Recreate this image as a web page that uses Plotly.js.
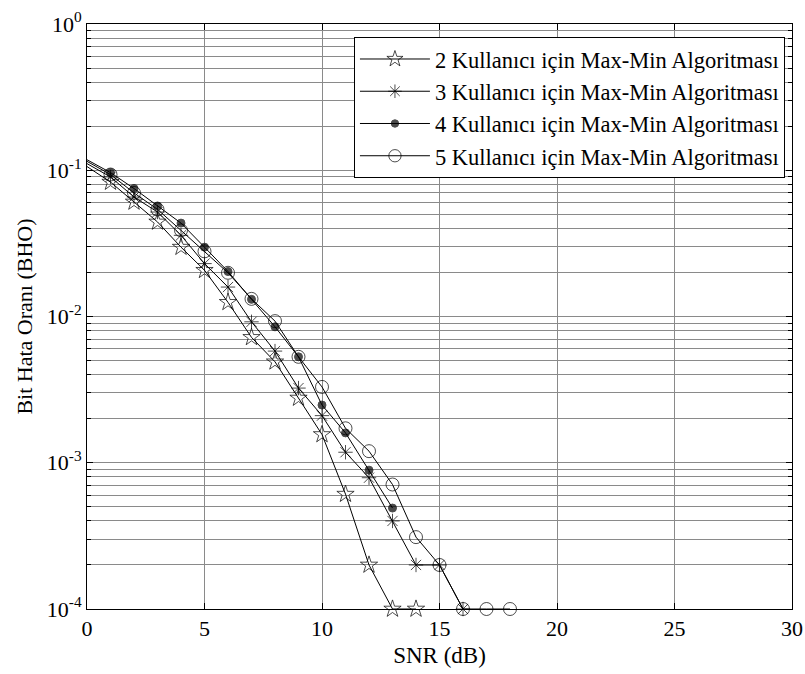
<!DOCTYPE html>
<html>
<head>
<meta charset="utf-8">
<script src="https://cdn.plot.ly/plotly-3.0.1.min.js"></script>
<style>html,body{margin:0;padding:0;background:#fff;}</style>
</head>
<body>
<div id="chart" style="width:805px;height:674px;"></div>
<script>
// SNR (dB) values for each series
const snr2 = [0,1,2,3,4,5,6,7,8,9,10,11,12,13,14];
const ber2 = [0.106,0.083,0.0607,0.0443,0.0298,0.0207,0.0125,0.0072,0.0049,0.00277,0.00156,0.00061,0.0002,0.0001,0.0001];

const snr3 = [0,1,2,3,4,5,6,7,8,9,10,11,12,13,14,15,16];
const ber3 = [0.111,0.090,0.0656,0.0518,0.0359,0.023,0.0159,0.0092,0.0058,0.00324,0.0021,0.00118,0.00079,0.0004,0.0002,0.0002,0.0001];

const snr4 = [0,1,2,3,4,5,6,7,8,9,10,11,12,13];
const ber4 = [0.118,0.0964,0.075,0.057,0.0435,0.0298,0.0203,0.0131,0.0085,0.0053,0.00248,0.0016,0.00089,0.00049];

const snr5 = [0,1,2,3,4,5,6,7,8,9,10,11,12,13,14,15,16,17,18];
const ber5 = [0.115,0.0935,0.070,0.054,0.0388,0.0279,0.0199,0.0132,0.0093,0.0053,0.0033,0.00172,0.0012,0.00071,0.00031,0.0002,0.0001,0.0001,0.0001];

const seriesNames = [
  "2 Kullanıcı için Max-Min Algoritması",
  "3 Kullanıcı için Max-Min Algoritması",
  "4 Kullanıcı için Max-Min Algoritması",
  "5 Kullanıcı için Max-Min Algoritması"
];

const yTickVals = [1, 0.1, 0.01, 0.001, 0.0001];
const yTickText = ["10<sup>0</sup>","10<sup>-1</sup>","10<sup>-2</sup>","10<sup>-3</sup>","10<sup>-4</sup>"];
const xTickVals = [0,5,10,15,20,25,30];

function sizes(xs, s){ return xs.map(v => v === 0 ? 0 : s); }

function tr(x, y, name, symbol, size, fill){
  return {
    x: x, y: y, name: name, type: 'scatter', mode: 'lines+markers',
    cliponaxis: false,
    line: {color: '#000', width: 1},
    marker: {symbol: symbol, size: sizes(x, size), color: fill,
             line: {color: '#000', width: 1}}
  };
}

const data = [
  tr(snr2, ber2, seriesNames[0], 'star-open', 13, '#000'),
  tr(snr3, ber3, seriesNames[1], 'asterisk-open', 12, '#000'),
  tr(snr4, ber4, seriesNames[2], 'circle', 8, '#000'),
  tr(snr5, ber5, seriesNames[3], 'circle-open', 13, '#000')
];

const font = {family: 'Liberation Serif, Times New Roman, serif', color: '#000'};

const layout = {
  width: 805, height: 674,
  margin: {l: 87, r: 13, t: 24, b: 65},
  paper_bgcolor: '#fff', plot_bgcolor: '#fff',
  font: Object.assign({size: 22}, font),
  showlegend: true,
  legend: {
    x: 0.99, y: 0.978, xanchor: 'right', yanchor: 'top',
    bgcolor: '#fff', bordercolor: '#000', borderwidth: 1,
    font: Object.assign({size: 22.5}, font),
    itemwidth: 70
  },
  xaxis: {
    range: [0, 30], tickmode: 'array', tickvals: xTickVals,
    showgrid: true, gridcolor: '#8a8a8a', gridwidth: 1,
    zeroline: false, showline: true, linecolor: '#000', linewidth: 1,
    mirror: 'ticks', ticks: 'inside', ticklen: 6, tickcolor: '#000',
    tickfont: Object.assign({size: 22}, font),
    title: {text: 'SNR (dB)', font: Object.assign({size: 23}, font), standoff: 6}
  },
  yaxis: {
    type: 'log', range: [-4, 0],
    tickmode: 'array', tickvals: yTickVals, ticktext: yTickText,
    showgrid: true, gridcolor: '#8a8a8a', gridwidth: 1,
    zeroline: false, showline: true, linecolor: '#000', linewidth: 1,
    mirror: 'ticks', ticks: 'inside', ticklen: 6, tickcolor: '#000',
    tickfont: Object.assign({size: 22}, font),
    minor: {tickmode: 'linear', dtick: 'D1', showgrid: true, gridcolor: '#8a8a8a', gridwidth: 1,
            ticks: 'inside', ticklen: 4, tickcolor: '#000'},
    title: {text: 'Bit Hata Oranı (BHO)', font: Object.assign({size: 22}, font), standoff: 8}
  }
};

Plotly.newPlot('chart', data, layout, {displayModeBar: false, staticPlot: true});
</script>
</body>
</html>
